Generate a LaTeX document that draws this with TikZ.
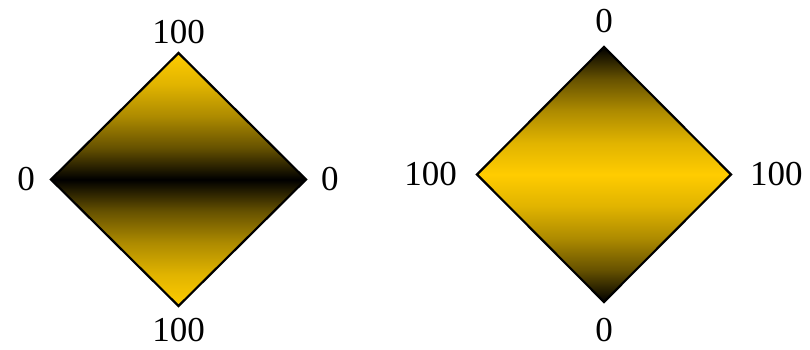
\documentclass[tikz,border=0pt]{standalone}
\usepackage{fontspec}
\setmainfont{Liberation Serif}
\usetikzlibrary{shapes.geometric,positioning}
\definecolor{gold}{RGB}{255,204,0}
% vertical shadings, the path fits between 25bp and 75bp
\pgfdeclareverticalshading{darkmiddle}{100bp}{color(0bp)=(gold); color(25bp)=(gold);
  color(31.25bp)=(gold!88!black); color(37.5bp)=(gold!68!black); color(43.75bp)=(gold!40!black);
  color(50bp)=(black);
  color(56.25bp)=(gold!40!black); color(62.5bp)=(gold!68!black); color(68.75bp)=(gold!88!black);
  color(75bp)=(gold); color(100bp)=(gold)}
\pgfdeclareverticalshading{lightmiddle}{100bp}{color(0bp)=(black); color(25bp)=(black);
  color(31.25bp)=(gold!40!black); color(37.5bp)=(gold!68!black); color(43.75bp)=(gold!88!black);
  color(50bp)=(gold);
  color(56.25bp)=(gold!88!black); color(62.5bp)=(gold!68!black); color(68.75bp)=(gold!40!black);
  color(75bp)=(black); color(100bp)=(black)}
\begin{document}
\begin{tikzpicture}[
x=1pt,y=-1pt,
rhomb/.style={diamond,draw,line width=2.2pt,inner sep=0pt,outer sep=0pt,aspect=1},
darkmid/.style={rhomb,shading=darkmiddle},
lightmid/.style={rhomb,shading=lightmiddle},
every label node/.style={inner sep=0pt,font=\fontsize{35}{40}\selectfont}
]
\useasboundingbox (0,0) rectangle (810,350);
\node[darkmid,minimum width=255pt,minimum height=253pt] (d1) at (178.5,179.5) {};
\node[lightmid,minimum width=254pt,minimum height=255pt] (d2) at (604,174.5) {};
% labels of the left diamond
\node[every label node,above=9pt of d1.north] (d1n) {100};
\node[every label node,below=12pt of d1.south] (d1s) {100};
\node[every label node,left=16pt of d1.west] (d1w) {0};
\node[every label node,right=15pt of d1.east] (d1e) {0};
% labels of the right diamond
\node[every label node,above=14pt of d2.north] (d2n) {0};
\node[every label node,below=16pt of d2.south] (d2s) {0};
\node[every label node,left=20pt of d2.west] (d2w) {100};
\node[every label node,right=19pt of d2.east] (d2e) {100};
\end{tikzpicture}
\end{document}
